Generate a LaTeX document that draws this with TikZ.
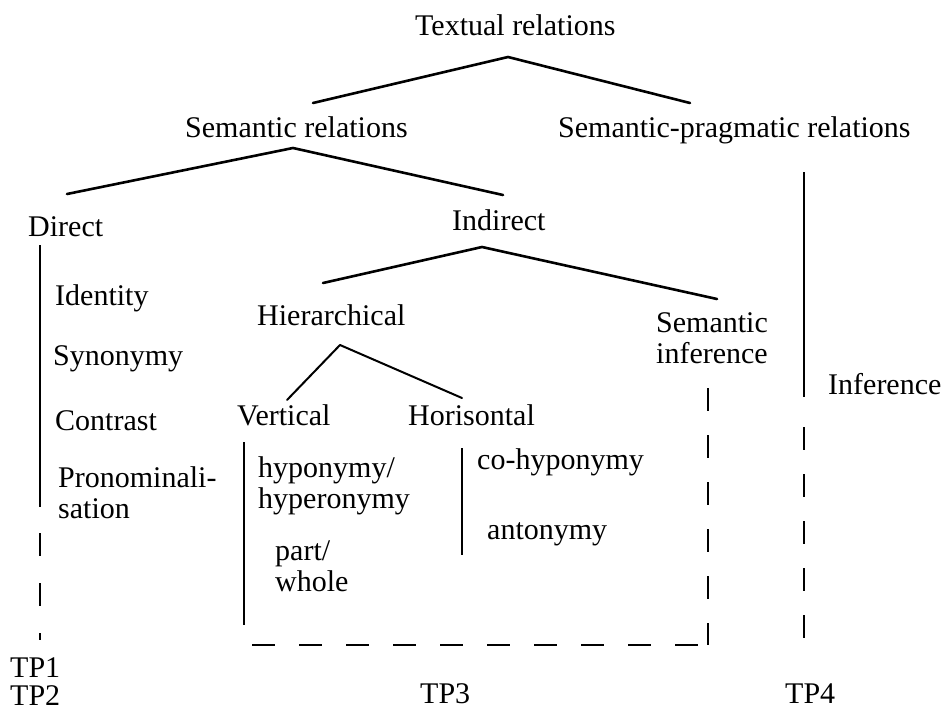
\documentclass[tikz,border=0pt]{standalone}
\usepackage{fontspec}
\setmainfont{Liberation Serif}
\begin{document}
\begin{tikzpicture}[x=1pt,y=-1pt,
  lbl/.style={anchor=base west, inner sep=0pt, font=\fontsize{30}{30}\selectfont},
  ml/.style={anchor=north west, inner sep=0pt, align=left, font=\fontsize{30}{31}\selectfont},
  tree/.style={line width=2.6pt, line join=round, line cap=round},
  rule/.style={line width=2.4pt},
  dashrule/.style={line width=2.4pt, dash pattern=on 23pt off 24pt}]
\useasboundingbox (0,0) rectangle (948,712);

% texts (base line positions)
\node[lbl] (textual) at (415,35) {Textual relations};
\node[lbl] (semrel) at (185,137) {Semantic relations};
\node[lbl] (sempr) at (558,137) {Semantic-pragmatic relations};
\node[lbl] (direct) at (28,236) {Direct};
\node[lbl] (indirect) at (452,230) {Indirect};
\node[lbl] (identity) at (55,305) {Identity};
\node[lbl] (synonymy) at (53,365) {Synonymy};
\node[lbl] (contrast) at (55,430) {Contrast};
\node[ml] (pronom) at (58,466) {Pronominali-\\sation};
\node[lbl] (hier) at (257,325) {Hierarchical};
\node[ml, anchor=north, align=center] (seminf) at (712,312) {Semantic\\inference};
\node[lbl] (vertical) at (237,425) {Vertical};
\node[lbl] (horis) at (408,425) {Horisontal};
\node[ml] (hypo) at (258,456) {hyponymy/\\hyperonymy};
\node[ml] (part) at (275,541) {part/\\whole};
\node[lbl] (cohypo) at (477,469) {co-hyponymy};
\node[lbl] (anto) at (487,539) {antonymy};
\node[lbl] (inference) at (828,394) {Inference};
\node[ml, font=\fontsize{30}{28}\selectfont] (tp12) at (10,657) {TP1\\TP2};
\node[lbl] (tp3) at (420,703) {TP3};
\node[lbl] (tp4) at (785,703) {TP4};

% tree connectors
\coordinate (t1l) at (313,103); \coordinate (t1a) at (508,57); \coordinate (t1r) at (690,103);
\coordinate (t2l) at (67,194);  \coordinate (t2a) at (293,148); \coordinate (t2r) at (503,195);
\coordinate (t3l) at (323,283); \coordinate (t3a) at (482,247); \coordinate (t3r) at (717,299);
\coordinate (t4l) at (287,400); \coordinate (t4a) at (340,345); \coordinate (t4r) at (462,398);
\draw[tree] (t1l) -- (t1a) -- (t1r);
\draw[tree] (t2l) -- (t2a) -- (t2r);
\draw[tree] (t3l) -- (t3a) -- (t3r);
\draw[tree, line width=2pt] (t4l) -- (t4a) -- (t4r);

% TP1/TP2 column
\coordinate (d1) at (40,245); \coordinate (d2) at (40,507);
\coordinate (d3) at (40,533); \coordinate (d4) at (40,640);
\draw[rule] (d1) -- (d2);
\draw[dashrule, dash pattern=on 23pt off 27pt] (d3) -- (d4);

% vertical / horisontal rules
\coordinate (v1) at (244,442); \coordinate (v2) at (244,625);
\coordinate (h1) at (462,448); \coordinate (h2) at (462,555);
\draw[rule, line width=2pt] (v1) -- (v2);
\draw[rule, line width=2pt] (h1) -- (h2);

% TP3 dashed frame
\coordinate (s1) at (708,388); \coordinate (s2) at (708,645);
\coordinate (b1) at (252,645);
\draw[dashrule] (s1) -- (s2);
\draw[dashrule] (b1) -- (s2);

% TP4 column
\coordinate (p1) at (804,172); \coordinate (p2) at (804,397);
\coordinate (p3) at (804,427); \coordinate (p4) at (804,640);
\draw[rule] (p1) -- (p2);
\draw[dashrule] (p3) -- (p4);
\end{tikzpicture}
\end{document}
